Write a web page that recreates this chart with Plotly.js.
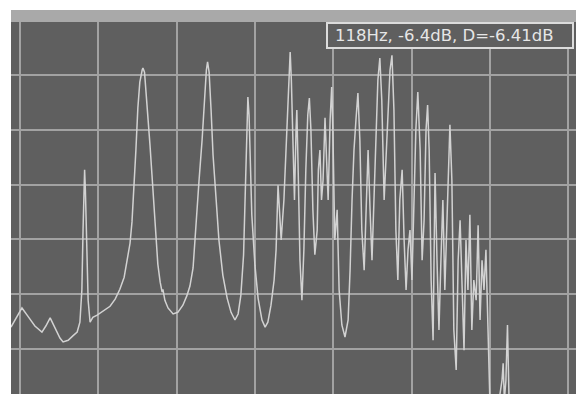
<!DOCTYPE html>
<html>
<head>
<meta charset="utf-8">
<script src="https://cdn.plot.ly/plotly-3.0.1.min.js"></script>
<style>html,body{margin:0;padding:0;background:#fff;}#chart{width:576px;height:394px;}</style>
</head>
<body>
<div id="chart"></div>
<script>
// Frequency (Hz) and level (dB)
const freqHz = [
  17.7, 19.0, 20.5, 22.0, 23.8, 25.6, 26.6, 27.7, 28.9, 30.2, 31.0, 32.3, 33.5, 34.6, 35.3, 35.8, 36.1, 36.3, 36.5, 36.7,
  37.0, 37.4, 37.9, 38.6, 39.7, 41.2, 43.0, 44.3, 45.5, 46.6, 47.3, 48.1, 48.6, 49.1, 49.6, 50.1, 50.6, 51.2, 51.4, 51.8,
  52.4, 53.2, 53.7, 54.5, 55.2, 55.8, 56.3, 56.5, 57.0, 57.8, 59.1, 60.3, 61.6, 62.6, 63.4, 64.2, 64.9, 65.7, 66.5, 67.1,
  67.6, 67.9, 68.3, 68.8, 69.3, 70.1, 70.8, 71.8, 72.9, 73.9, 74.9, 75.7, 76.4, 77.1, 77.6, 78.0, 78.2, 78.5, 78.9, 79.2,
  80.0, 80.8, 81.8, 82.6, 83.3, 84.1, 84.9, 85.4, 85.9, 86.3, 86.7, 87.4, 88.1, 88.6, 89.0, 89.3, 89.7, 90.1, 90.5, 90.7,
  91.1, 91.5, 92.0, 92.5, 93.0, 93.5, 93.9, 94.3, 94.8, 95.3, 95.9, 96.2, 96.6, 97.0, 97.4, 97.9, 98.3, 98.7, 99.2, 99.6,
  99.9, 100.4, 101.0, 101.5, 102.2, 103.0, 103.8, 104.3, 104.8, 105.3, 105.8, 106.3, 106.8, 107.3, 107.9, 108.4, 108.9, 109.4, 109.9, 110.4,
  110.9, 111.4, 111.9, 112.4, 113.0, 113.5, 114.0, 114.5, 115.0, 115.5, 116.0, 116.5, 117.0, 117.6, 118.1, 118.6, 119.1, 119.6, 120.1, 120.6,
  121.1, 121.6, 122.2, 122.7, 123.2, 123.7, 124.1, 124.5, 125.0, 125.5, 126.0, 126.5, 127.0, 127.5, 128.0, 128.5, 129.0, 129.8, 130.3, 130.8,
  131.4, 131.9, 132.4, 132.9, 133.4, 133.9, 134.4, 134.9, 135.4, 135.9, 136.5, 137.0, 137.5, 138.0, 138.5, 139.0, 139.5, 140.0, 141.6, 143.1,
  143.4, 143.7, 144.1, 144.5, 144.9, 147.7, 162.0
];
const levelDb = [
  -56.0, -54.3, -52.5, -54.0, -55.8, -56.9, -55.8, -54.3, -56.2, -58.0, -58.7, -58.4, -57.6, -56.9, -55.1, -49.2, -38.3, -28.2, -27.3, -31.0,
  -41.9, -51.1, -55.1, -54.2, -53.8, -53.1, -52.2, -50.9, -49.1, -46.9, -44.3, -40.7, -36.8, -31.0, -23.7, -16.0, -11.3, -9.1, -8.7, -9.5,
  -14.6, -22.8, -28.2, -36.8, -44.5, -47.8, -49.6, -49.1, -51.1, -52.5, -53.6, -53.3, -52.0, -50.3, -48.5, -45.2, -37.4, -29.5, -21.9, -14.6,
  -9.1, -7.6, -9.5, -16.4, -24.6, -32.8, -40.1, -46.5, -50.7, -53.3, -54.7, -53.6, -50.2, -42.8, -31.0, -20.0, -14.0, -17.3, -27.3, -35.5,
  -44.7, -50.7, -54.7, -56.0, -55.1, -52.0, -47.4, -41.9, -30.1, -34.6, -40.1, -32.8, -20.0, -10.0, -5.8, -10.9, -23.7, -32.8, -20.0, -16.4,
  -29.2, -43.8, -51.1, -41.9, -27.3, -17.3, -14.2, -20.0, -34.6, -42.8, -38.3, -27.3, -23.7, -32.8, -29.2, -17.8, -25.5, -32.8, -18.2, -12.2,
  -20.0, -40.1, -34.6, -49.2, -55.6, -57.8, -54.7, -45.6, -32.8, -23.7, -18.2, -13.3, -21.9, -38.3, -45.6, -32.8, -23.7, -34.6, -43.8, -32.8,
  -20.0, -10.9, -6.9, -14.6, -32.8, -25.5, -18.2, -9.1, -6.4, -16.4, -38.3, -47.4, -32.8, -27.3, -40.1, -49.2, -41.9, -38.3, -47.4, -32.8,
  -20.0, -13.1, -23.7, -43.8, -36.5, -20.0, -15.5, -23.7, -47.4, -58.4, -27.9, -43.8, -56.5, -43.8, -32.8, -49.2, -36.5, -19.1, -29.2, -56.5,
  -63.8, -43.8, -36.5, -51.1, -60.2, -40.1, -49.2, -35.5, -56.5, -47.4, -51.1, -37.4, -54.7, -43.8, -49.2, -41.9, -58.4, -69.3, -73.0, -65.7,
  -62.6, -69.3, -65.7, -55.6, -69.3, -73.0, -74.8
];
const readout = "118Hz, -6.4dB, D=-6.41dB";

const trace = {
  x: freqHz, y: levelDb, type: 'scatter', mode: 'lines',
  line: {color: '#d2d2d2', width: 1.5}, hoverinfo: 'skip'
};

const layout = {
  width: 576, height: 394,
  margin: {l: 11, r: 0, t: 22, b: 0, pad: 0},
  paper_bgcolor: '#ffffff', plot_bgcolor: '#5f5f5f',
  showlegend: false,
  xaxis: {range: [17.70, 162.0], tick0: 0, dtick: 20, showticklabels: false, ticks: '',
          showgrid: true, gridcolor: '#a2a2a2', gridwidth: 2, zeroline: false, showline: false},
  yaxis: {range: [-68.2, -0.33], tick0: 0, dtick: 10, showticklabels: false, ticks: '',
          showgrid: true, gridcolor: '#a2a2a2', gridwidth: 2, zeroline: false, showline: false},
  shapes: [
    {type: 'rect', xref: 'paper', yref: 'paper', x0: 0, x1: 1, y0: 1, y1: 1.0323,
     fillcolor: '#a9a9a9', line: {width: 0}, layer: 'above'},
    {type: 'rect', xref: 'paper', yref: 'paper', x0: 0.5593, x1: 0.9947, y0: 0.9301, y1: 0.9973,
     fillcolor: '#5f5f5f', line: {color: '#dcdcdc', width: 2}, layer: 'above'}
  ],
  annotations: [
    {xref: 'paper', yref: 'paper', x: 0.5700, y: 0.9637, xanchor: 'left', yanchor: 'middle',
     text: readout, showarrow: false,
     font: {family: 'DejaVu Sans, Verdana, sans-serif', size: 16.5, color: '#e6e6e6'}}
  ]
};

Plotly.newPlot('chart', [trace], layout, {staticPlot: true, displayModeBar: false});
</script>
</body>
</html>
